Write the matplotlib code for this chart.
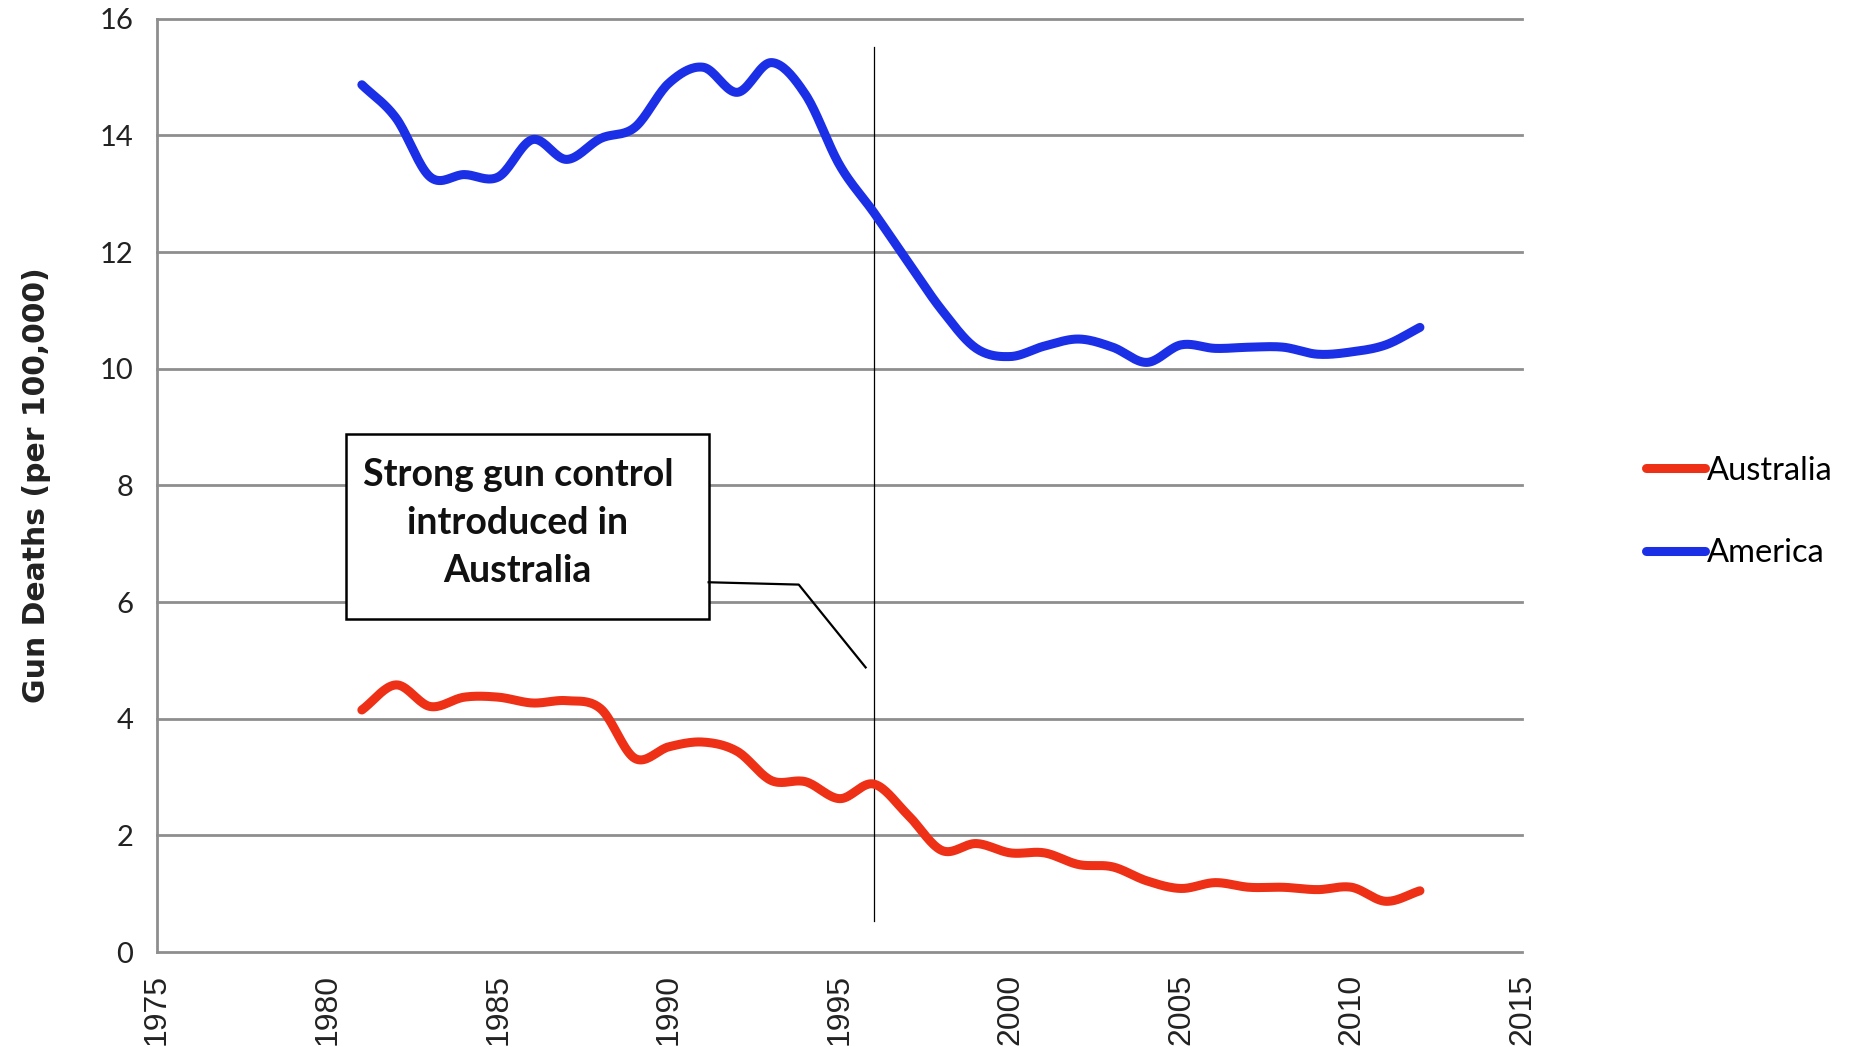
import numpy as np
import matplotlib
matplotlib.use("Agg")
import matplotlib.pyplot as plt
from matplotlib.patches import Rectangle

years = list(range(1981, 2013))
america = [14.87, 14.30, 13.29, 13.33, 13.29, 13.93, 13.59, 13.95, 14.14, 14.90,
           15.17, 14.74, 15.25, 14.70, 13.49, 12.68, 11.83, 11.00, 10.35, 10.21,
           10.39, 10.51, 10.37, 10.11, 10.41, 10.35, 10.37, 10.37, 10.25, 10.29,
           10.41, 10.71]
australia = [4.15, 4.58, 4.21, 4.37, 4.37, 4.27, 4.31, 4.17, 3.32, 3.52,
             3.60, 3.44, 2.94, 2.92, 2.63, 2.88, 2.35, 1.74, 1.86, 1.70,
             1.70, 1.50, 1.46, 1.22, 1.09, 1.19, 1.11, 1.11, 1.07, 1.11,
             0.87, 1.05]
xticks = [1975, 1980, 1985, 1990, 1995, 2000, 2005, 2010, 2015]
yticks = [0, 2, 4, 6, 8, 10, 12, 14, 16]
event_year = 1996
annotation = "Strong gun control\nintroduced in\nAustralia"
ylabel = "Gun Deaths (per 100,000)"


def smooth(x, y, n=20):
    # Catmull-Rom curve through the read points (like Excel's smoothed line)
    x = np.asarray(x, float)
    y = np.asarray(y, float)
    px = np.concatenate([[2 * x[0] - x[1]], x, [2 * x[-1] - x[-2]]])
    py = np.concatenate([[2 * y[0] - y[1]], y, [2 * y[-1] - y[-2]]])
    xs, ys = [], []
    t = np.linspace(0, 1, n, endpoint=False)
    for i in range(1, len(px) - 2):
        for arr, out in ((px, xs), (py, ys)):
            p0, p1, p2, p3 = arr[i - 1], arr[i], arr[i + 1], arr[i + 2]
            out.extend(0.5 * ((2 * p1) + (-p0 + p2) * t
                              + (2 * p0 - 5 * p1 + 4 * p2 - p3) * t ** 2
                              + (-p0 + 3 * p1 - 3 * p2 + p3) * t ** 3))
    xs.append(x[-1])
    ys.append(y[-1])
    return np.array(xs), np.array(ys)


fig = plt.figure(figsize=(18.52, 10.47), dpi=100)
ax = fig.add_axes([0.0848, 0.0907, 0.7372, 0.8913])
ax.set_xlim(1975, 2015)
ax.set_ylim(0, 16)

grid_color = "#8e8e8e"
for v in yticks:
    ax.axhline(v, color=grid_color, lw=2.0, zorder=1, clip_on=False)
for s in ["top", "right", "bottom"]:
    ax.spines[s].set_visible(False)
ax.spines["left"].set_color(grid_color)
ax.spines["left"].set_linewidth(2.0)

red = "#ee3016"
blue = "#1b2fe6"
sx, sy = smooth(years, australia)
ax.plot(sx, sy, color=red, lw=6.5, solid_capstyle="round", zorder=3, label="Australia")
sx, sy = smooth(years, america)
ax.plot(sx, sy, color=blue, lw=6.5, solid_capstyle="round", zorder=3, label="America")

ax.plot([event_year, event_year], [0.53, 15.51], color="black", lw=0.9, zorder=2)

ax.add_patch(Rectangle((1980.54, 5.71), 10.62, 3.18, facecolor="white",
                       edgecolor="black", lw=1.8, zorder=4))
ax.text(1985.57, 7.36, annotation, ha="center", va="center", fontsize=27,
        family="Lato", fontweight="bold", linespacing=1.5, color="#111111", zorder=5)
ax.plot([1991.16, 1993.8, 1995.76], [6.34, 6.30, 4.88], color="black", lw=1.6, zorder=4)

ax.set_xticks(xticks)
ax.set_xticklabels([str(v) for v in xticks], rotation=90, fontsize=23,
                   family="Liberation Sans", color="#222222")
ax.set_yticks(yticks)
ax.set_yticklabels([str(v) for v in yticks], fontsize=21, family="Lato", color="#222222")
ax.tick_params(axis="both", length=0)
ax.tick_params(axis="x", pad=16)
ax.tick_params(axis="y", pad=17)
ax.set_ylabel(ylabel, fontsize=21.5, fontweight="bold", family="DejaVu Sans",
              color="#222222")
ax.yaxis.set_label_coords(-0.078, 0.5)

leg = ax.legend(loc="center left", bbox_to_anchor=(0.880, 0.511),
                bbox_transform=fig.transFigure, frameon=False, borderpad=0,
                prop={"family": "Lato", "size": 23.5}, handlelength=1.8,
                handletextpad=0.05, labelspacing=1.6)
for h in leg.get_lines():
    h.set_linewidth(6.5)

fig.savefig("out.png", dpi=100, facecolor="white")
